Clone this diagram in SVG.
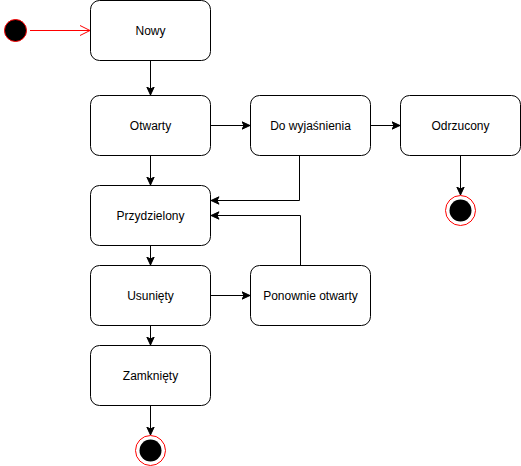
<svg xmlns="http://www.w3.org/2000/svg" width="521" height="466" viewBox="0 0 521 466">
<style>
.st{fill:#fff;stroke:#000;stroke-width:1}
.lb{font-family:"Liberation Sans",Arial,sans-serif;font-size:12px;fill:#000;text-anchor:middle;dominant-baseline:central}
.cn{fill:none;stroke:#000;stroke-width:1;marker-end:url(#arr)}
</style>
<defs>
<marker id="arr" markerUnits="userSpaceOnUse" markerWidth="9" markerHeight="9" viewBox="0 0 9 9" refX="8.5" refY="4.5" orient="auto">
<path d="M8.5,4.5 L0.5,0.8 L2.5,4.5 L0.5,8.2 Z" fill="#000" stroke="#000" stroke-width="1"/>
</marker>
<marker id="open" markerUnits="userSpaceOnUse" markerWidth="12" markerHeight="12" viewBox="0 0 12 12" refX="11" refY="6" orient="auto">
<path d="M1,1 L11,6 L1,11" fill="none" stroke="#ff0000" stroke-width="1"/>
</marker>
</defs>
<g id="connectors">
<line x1="30" y1="30.5" x2="90" y2="30.5" stroke="#ff0000" stroke-width="1" marker-end="url(#open)"/>
<path class="cn" d="M150.5,60.5 L150.5,95"/>
<path class="cn" d="M210.5,125.5 L250,125.5"/>
<path class="cn" d="M370.5,125.5 L400,125.5"/>
<path class="cn" d="M460.5,155.5 L460.5,195"/>
<path class="cn" d="M299.5,155.5 L299.5,200.5 L211,200.5"/>
<path class="cn" d="M150.5,155.5 L150.5,185"/>
<path class="cn" d="M300.5,265.5 L300.5,215.5 L211,215.5"/>
<path class="cn" d="M150.5,245.5 L150.5,265"/>
<path class="cn" d="M210.5,295.5 L250,295.5"/>
<path class="cn" d="M150.5,325.5 L150.5,345"/>
<path class="cn" d="M150.5,405.5 L150.5,435"/>
</g>
<g id="start">
<circle cx="15.5" cy="30.5" r="11" fill="#000" stroke="#ff0000" stroke-width="1"/>
</g>
<g id="nowy">
<rect class="st" x="90.5" y="0.5" width="120" height="60" rx="9" ry="9"/>
<text class="lb" x="150.5" y="30.5">Nowy</text>
</g>
<g id="otwarty">
<rect class="st" x="90.5" y="95.5" width="120" height="60" rx="9" ry="9"/>
<text class="lb" x="150.5" y="125.5">Otwarty</text>
</g>
<g id="do-wyjasnienia">
<rect class="st" x="250.5" y="95.5" width="120" height="60" rx="9" ry="9"/>
<text class="lb" x="310.5" y="125.5">Do wyjaśnienia</text>
</g>
<g id="odrzucony">
<rect class="st" x="400.5" y="95.5" width="120" height="60" rx="9" ry="9"/>
<text class="lb" x="460.5" y="125.5">Odrzucony</text>
</g>
<g id="end-odrzucony">
<circle cx="460.5" cy="210.5" r="15" fill="#fff" stroke="#ff0000" stroke-width="1"/>
<circle cx="460.5" cy="210.5" r="11" fill="#000"/>
</g>
<g id="przydzielony">
<rect class="st" x="90.5" y="185.5" width="120" height="60" rx="9" ry="9"/>
<text class="lb" x="150.5" y="215.5">Przydzielony</text>
</g>
<g id="usuniety">
<rect class="st" x="90.5" y="265.5" width="120" height="60" rx="9" ry="9"/>
<text class="lb" x="150.5" y="295.5">Usunięty</text>
</g>
<g id="ponownie-otwarty">
<rect class="st" x="250.5" y="265.5" width="120" height="60" rx="9" ry="9"/>
<text class="lb" x="310.5" y="295.5">Ponownie otwarty</text>
</g>
<g id="zamkniety">
<rect class="st" x="90.5" y="345.5" width="120" height="60" rx="9" ry="9"/>
<text class="lb" x="150.5" y="375.5">Zamknięty</text>
</g>
<g id="end-zamkniety">
<circle cx="150.5" cy="450.5" r="15" fill="#fff" stroke="#ff0000" stroke-width="1"/>
<circle cx="150.5" cy="450.5" r="11" fill="#000"/>
</g>
</svg>
